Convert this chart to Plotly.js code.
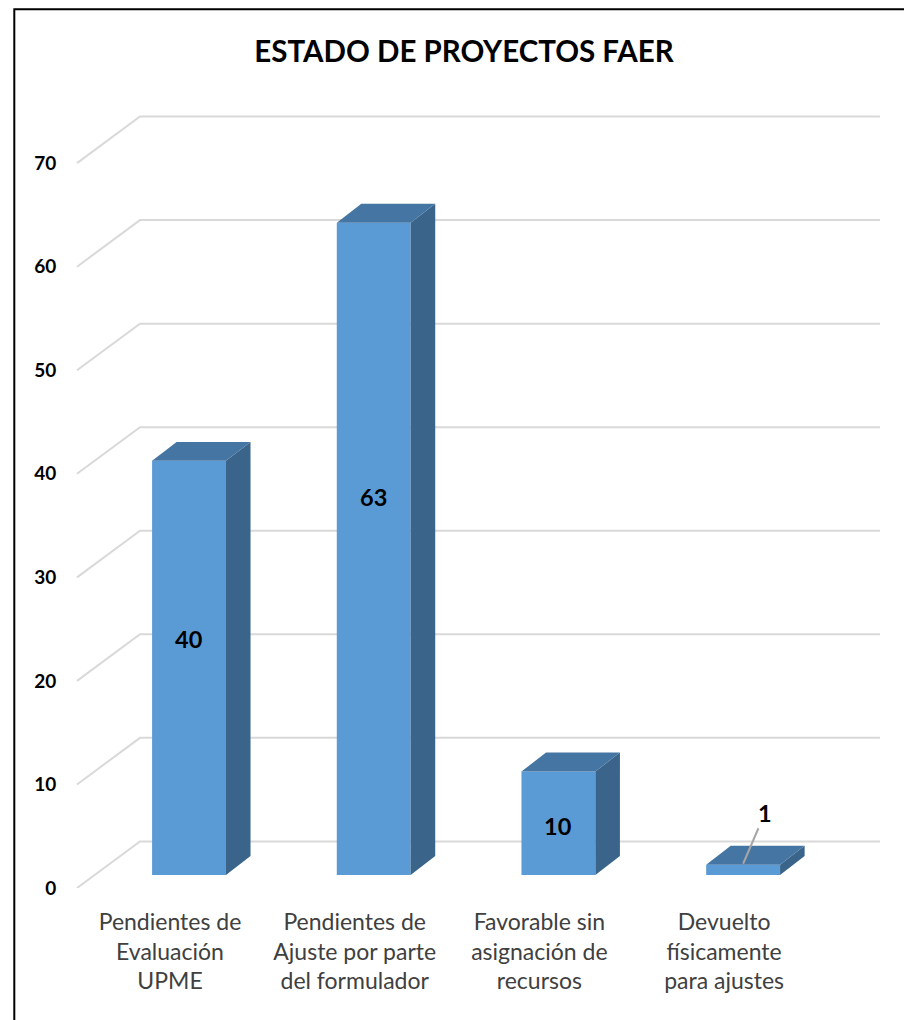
<!DOCTYPE html>
<html>
<head>
<meta charset="utf-8">
<script src="https://cdn.plot.ly/plotly-3.0.1.min.js"></script>
<style>
  html, body { margin: 0; padding: 0; background: #ffffff; }
  #chart { width: 904px; height: 1020px; }
</style>
</head>
<body>
<div id="chart"></div>
<script>
// ---- Data ----
const categories = [
  "Pendientes de<br>Evaluación<br>UPME",
  "Pendientes de<br>Ajuste por parte<br>del formulador",
  "Favorable sin<br>asignación de<br>recursos",
  "Devuelto<br>físicamente<br>para ajustes"
];
const values = [40, 63, 10, 1];
const yTickValues = [0, 10, 20, 30, 40, 50, 60, 70];
const chartTitle = "ESTADO DE PROYECTOS FAER";

// ---- Pseudo-3D geometry (in axis units) ----
const BAR_SHIFT = 0.103;   // bars sit deeper than the front plane
const BAR_W = 0.40;
const BASE = 1.25;
const DEPTH_X = 0.133;
const DEPTH_Y = 1.83;
const WALL_X = 0.341;
const WALL_Y = 4.5;
const X_MIN = -0.5414, X_MAX = 3.855;
const WALL_LEFT = -0.5035, WALL_RIGHT = 3.844;
const Y_MAX = 76;

const FRONT = '#5B9BD5', TOP = '#4575A3', SIDE = '#3A6489';
const FONT = 'Lato, "Open Sans", "DejaVu Sans", sans-serif';

const traces = [];
// front faces
traces.push({
  type: 'bar',
  x: values.map((v, i) => i + BAR_SHIFT),
  y: values,
  base: values.map(() => BASE),
  width: BAR_W,
  marker: { color: FRONT, line: { width: 0 } },
  hoverinfo: 'skip',
  showlegend: false
});
// side and top faces
values.forEach((v, i) => {
  const xl = i + BAR_SHIFT - BAR_W / 2;
  const xr = i + BAR_SHIFT + BAR_W / 2;
  const top = BASE + v;
  traces.push({
    type: 'scatter', mode: 'lines', fill: 'toself', fillcolor: SIDE,
    line: { width: 0, color: SIDE },
    x: [xr, xr + DEPTH_X, xr + DEPTH_X, xr, xr],
    y: [BASE, BASE + DEPTH_Y, top + DEPTH_Y, top, BASE],
    hoverinfo: 'skip', showlegend: false
  });
  traces.push({
    type: 'scatter', mode: 'lines', fill: 'toself', fillcolor: TOP,
    line: { width: 0, color: TOP },
    x: [xl, xr, xr + DEPTH_X, xl + DEPTH_X, xl],
    y: [top, top, top + DEPTH_Y, top + DEPTH_Y, top],
    hoverinfo: 'skip', showlegend: false
  });
});

// gridlines on the back wall with floor diagonals
const shapes = yTickValues.map(t => ({
  type: 'path', xref: 'x', yref: 'y', layer: 'below',
  path: `M ${WALL_LEFT},${t} L ${WALL_LEFT + WALL_X},${t + WALL_Y} L ${WALL_RIGHT},${t + WALL_Y}`,
  line: { color: '#D9D9D9', width: 2 }
}));
// chart border
shapes.push({
  type: 'rect', xref: 'paper', yref: 'paper',
  x0: (14.3 - 70) / 812, x1: 1.06, y0: -0.2, y1: (888 - 9.3) / 787,
  line: { color: '#000000', width: 2 }, fillcolor: 'rgba(0,0,0,0)'
});

// data labels
const annotations = values.map((v, i) => {
  if (v >= 5) {
    return {
      x: i + BAR_SHIFT, y: 0.6 * v, xref: 'x', yref: 'y',
      text: String(v), showarrow: false,
      font: { family: FONT, size: 23.5, color: '#000000', weight: 'bold' }
    };
  }
  return {
    x: i + BAR_SHIFT, y: BASE + v + DEPTH_Y * 0.05, xref: 'x', yref: 'y',
    text: String(v), showarrow: true, arrowhead: 0, arrowwidth: 2,
    arrowcolor: '#A6A6A6', ax: 22, ay: -51, standoff: 0,
    font: { family: FONT, size: 23.5, color: '#000000', weight: 'bold' }
  };
});

const layout = {
  width: 904, height: 1020,
  margin: { l: 70, r: 22, t: 101, b: 132 },
  paper_bgcolor: '#ffffff', plot_bgcolor: 'rgba(0,0,0,0)',
  showlegend: false,
  title: {
    text: '<b>' + chartTitle + '</b>',
    xref: 'container', x: 464 / 904, xanchor: 'center',
    yref: 'container', y: 1 - 52 / 1020, yanchor: 'middle',
    font: { family: FONT, size: 29.5, color: '#000000' }
  },
  xaxis: {
    range: [X_MIN, X_MAX],
    tickmode: 'array', tickvals: categories.map((c, i) => i), ticktext: categories,
    showgrid: false, zeroline: false, showline: false,
    ticks: 'outside', ticklen: 13, tickcolor: 'rgba(0,0,0,0)',
    tickfont: { family: FONT, size: 23, color: '#404040' },
    fixedrange: true
  },
  yaxis: {
    range: [0, Y_MAX],
    tickmode: 'array', tickvals: yTickValues, ticktext: yTickValues.map(String),
    showgrid: false, zeroline: false, showline: false,
    ticks: 'outside', ticklen: 9, tickcolor: 'rgba(0,0,0,0)',
    tickfont: { family: FONT, size: 19, color: '#000000', weight: 'bold' },
    fixedrange: true
  },
  shapes: shapes,
  annotations: annotations
};

Plotly.newPlot('chart', traces, layout, { displayModeBar: false, staticPlot: true });
</script>
</body>
</html>
